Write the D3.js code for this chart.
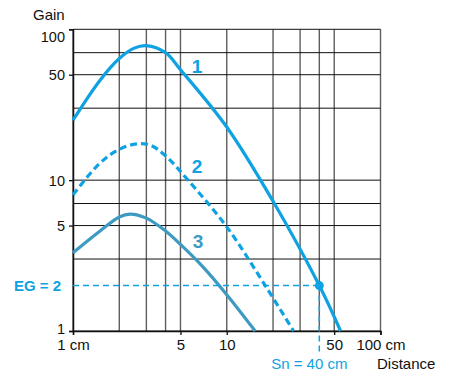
<!doctype html>
<html>
<head>
    <script src="https://d3js.org/d3.v7.min.js"></script>
    <style>
        body { margin: 0; background: #fff; }
        text { font-family: "Liberation Sans", Arial, sans-serif; }
    </style>
</head>
<body>
    <script>
        // curve 1 (solid), curve 2 (dashed), curve 3 (darker, solid)
        var dist1 = [1, 1.5, 2, 2.5, 3, 4, 5, 10, 20.4, 40, 55];
        var gain1 = [25, 46, 64, 75, 78, 70, 54, 22.5, 7, 2, 1];
        var dist2 = [1, 1.5, 2, 2.6, 3.2, 4, 5.6, 10, 17.8, 27.2];
        var gain2 = [8, 13, 16, 17.4, 17, 14.5, 10, 4.9, 2, 1];
        var dist3 = [1, 1.5, 2, 2.35, 3, 4, 5, 7, 10, 15.3];
        var gain3 = [3.3, 4.6, 5.7, 5.96, 5.6, 4.6, 3.75, 2.66, 1.74, 1];

        var xGrid = [1, 2, 3, 4, 5, 10, 20, 30, 40, 50, 100];
        var yGrid = [1, 3, 5, 7, 10, 30, 50, 70, 100];
        var xTicks = [1, 5, 10, 50, 100];
        var xTickLabels = ["1 cm", "5", "10", "50", "100 cm"];
        var yTicks = [1, 5, 10, 50, 100];
        var yTickLabels = ["1", "5", "10", "50", "100"];

        var sn = 40, eg = 2;

        var width = 451, height = 376;
        // note: "top" is taken by window.top, so prefix the plot edges
        var plotL = 73, plotT = 29.3, plotR = 380.5, plotB = 331;

        var blue = "#0ea2e2";
        var steel = "#3d9bc1";

        var x = d3.scaleLog().domain([1, 100]).range([plotL, plotR]);
        var y = d3.scaleLog().domain([1, 100]).range([plotB, plotT]);

        var svg = d3.select("body").append("svg")
            .attr("width", width)
            .attr("height", height);

        // grid
        svg.selectAll(".vgrid").data(xGrid).enter().append("line")
            .attr("x1", function(d){ return x(d) }).attr("x2", function(d){ return x(d) })
            .attr("y1", plotT).attr("y2", plotB)
            .attr("stroke", "#5e5e5e").attr("stroke-width", 1.4);

        svg.selectAll(".hgrid").data(yGrid).enter().append("line")
            .attr("x1", plotL).attr("x2", plotR)
            .attr("y1", function(d){ return y(d) }).attr("y2", function(d){ return y(d) })
            .attr("stroke", "#111").attr("stroke-width", 1);

        // axes (ticks only outward)
        var xAxis = d3.axisBottom(x).tickValues(xTicks).tickSize(4)
            .tickFormat(function(d, i){ return xTickLabels[i] });
        var yAxis = d3.axisLeft(y).tickValues(yTicks).tickSize(4)
            .tickFormat(function(d, i){ return yTickLabels[i] });

        var gx = svg.append("g").attr("transform", "translate(0," + plotB + ")").call(xAxis);
        var gy = svg.append("g").attr("transform", "translate(" + plotL + ",0)").call(yAxis);

        [gx, gy].forEach(function(g){
            g.select(".domain").attr("stroke", "#111").attr("stroke-width", 1.5);
            g.selectAll(".tick line").attr("stroke", "#111").attr("stroke-width", 1.3);
            g.selectAll("text").attr("fill", "#111").style("font-family", "Liberation Sans, Arial, sans-serif");
        });
        gx.selectAll("text").attr("font-size", 15).attr("y", 8).attr("dy", "0.71em");
        gy.selectAll("text").attr("font-size", 14.5).attr("x", -8)
            .attr("dy", function(d){ return d == 100 ? "0.85em" : d == 1 ? "0.15em" : "0.36em" });

        // curves
        var line = d3.line()
            .x(function(d){ return x(d[0]) })
            .y(function(d){ return y(d[1]) })
            .curve(d3.curveCatmullRom.alpha(0.5));

        svg.append("path").datum(d3.zip(dist3, gain3))
            .attr("d", line).attr("fill", "none")
            .attr("stroke", steel).attr("stroke-width", 3.2);

        svg.append("path").datum(d3.zip(dist2, gain2))
            .attr("d", line).attr("fill", "none")
            .attr("stroke", blue).attr("stroke-width", 3.2)
            .attr("stroke-dasharray", "7,4");

        svg.append("path").datum(d3.zip(dist1, gain1))
            .attr("d", line).attr("fill", "none")
            .attr("stroke", blue).attr("stroke-width", 3.2);

        // EG / Sn dashed guides
        svg.append("line")
            .attr("x1", plotL).attr("x2", x(sn))
            .attr("y1", y(eg)).attr("y2", y(eg))
            .attr("stroke", blue).attr("stroke-width", 1.5).attr("stroke-dasharray", "6,4");
        svg.append("line")
            .attr("x1", x(sn)).attr("x2", x(sn))
            .attr("y1", y(eg)).attr("y2", plotB + 21)
            .attr("stroke", blue).attr("stroke-width", 1.5).attr("stroke-dasharray", "6,4");
        svg.append("circle")
            .attr("cx", x(sn)).attr("cy", y(eg)).attr("r", 4.5)
            .attr("fill", blue);

        // curve numbers
        var nums = [["1", 6.4, 57, blue], ["2", 6.4, 12.4, blue], ["3", 6.5, 3.94, steel]];
        svg.selectAll(".num").data(nums).enter().append("text")
            .attr("x", function(d){ return x(d[1]) })
            .attr("y", function(d){ return y(d[2]) })
            .attr("dy", "0.36em")
            .attr("text-anchor", "middle")
            .attr("font-size", 19).attr("font-weight", "bold")
            .attr("fill", function(d){ return d[3] })
            .text(function(d){ return d[0] });

        // titles
        svg.append("text").attr("x", 33).attr("y", 20)
            .attr("font-size", 15).attr("fill", "#111").text("Gain");
        svg.append("text").attr("x", 377).attr("y", 369)
            .attr("font-size", 15).attr("fill", "#111").text("Distance");
        svg.append("text").attr("x", x(sn) - 10).attr("y", 369)
            .attr("text-anchor", "middle")
            .attr("font-size", 15).attr("fill", blue).text("Sn = 40 cm");
        svg.append("text").attr("x", 61).attr("y", y(eg)).attr("dy", "0.36em")
            .attr("text-anchor", "end")
            .attr("font-size", 15).attr("font-weight", "bold").attr("fill", blue).text("EG = 2");
    </script>
</body>
</html>
